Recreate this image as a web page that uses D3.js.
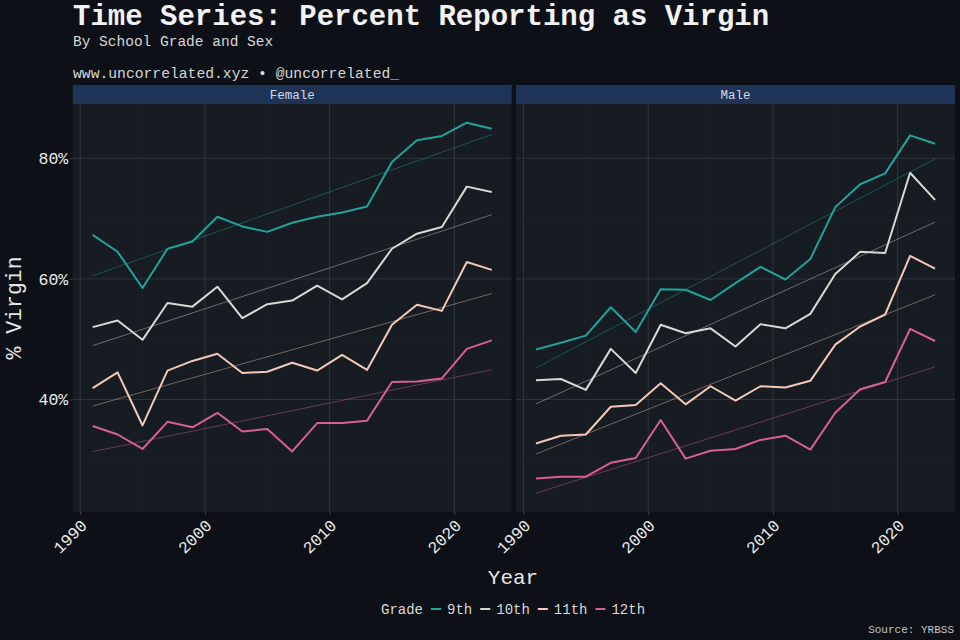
<!DOCTYPE html>
<html>
<head>
<meta charset="utf-8">
<script src="https://cdn.jsdelivr.net/npm/d3@7"></script>
<style>
  html, body { margin: 0; padding: 0; background: #0d1117; }
  svg { display: block; }
  text { font-family: "Liberation Mono", "DejaVu Sans Mono", monospace; }
</style>
</head>
<body>
<svg id="chart" width="960" height="640"></svg>
<script>
// ---------- data ----------
const years = [1991,1993,1995,1997,1999,2001,2003,2005,2007,2009,2011,2013,2015,2017,2019,2021,2023];
const grades = ["9th","10th","11th","12th"];
const sexes = ["Female","Male"];
const gradeColors = ["#1fa39b","#d3dbd3","#f4c8b8","#d8608e"];

const female9th  = [67.3,64.5,58.5,65.0,66.2,70.3,68.7,67.8,69.3,70.3,71.0,72.0,79.4,83.0,83.7,85.9,84.9];
const female10th = [52.0,53.1,49.9,56.0,55.4,58.7,53.5,55.8,56.4,58.9,56.6,59.3,65.0,67.5,68.6,75.3,74.4];
const female11th = [41.9,44.5,35.7,44.8,46.4,47.6,44.4,44.6,46.1,44.8,47.4,44.9,52.4,55.7,54.7,62.8,61.5];
const female12th = [35.6,34.2,31.8,36.3,35.4,37.8,34.7,35.1,31.4,36.1,36.1,36.5,42.9,43.0,43.5,48.4,49.8];

const male9th  = [48.3,49.4,50.6,55.3,51.2,58.3,58.2,56.5,59.3,62.0,59.9,63.3,71.9,75.7,77.5,83.8,82.4];
const male10th = [43.2,43.4,41.6,48.4,44.4,52.4,51.0,51.8,48.8,52.5,51.8,54.2,60.8,64.5,64.3,77.6,73.1];
const male11th = [32.7,34.0,34.2,38.8,39.1,42.7,39.2,42.2,39.8,42.2,42.0,43.1,49.1,52.1,54.1,63.8,61.7];
const male12th = [26.9,27.2,27.2,29.5,30.3,36.6,30.2,31.5,31.8,33.3,34.0,31.7,37.8,41.7,42.9,51.7,49.7];

const yTicks = [40, 60, 80];
const yMinor = [30, 50, 70];
const xTicks = [1990, 2000, 2010, 2020];
const xMinor = [1995, 2005, 2015];

const seriesBySex = {
  Female: [female9th, female10th, female11th, female12th],
  Male:   [male9th, male10th, male11th, male12th]
};

// ---------- layout ----------
const svg = d3.select("#chart");
const W = 960, H = 640;
svg.append("rect").attr("width", W).attr("height", H).attr("fill", "#0d1117");

const panelTop = 104, panelBottom = 512, stripTop = 85;
const panels = [
  { sex: "Female", x0: 72.7, x1: 511.7 },
  { sex: "Male",   x0: 516,  x1: 955 }
];

const y = d3.scaleLinear().domain([21.35, 89.0]).range([panelBottom, panelTop]);

function linreg(xs, ys) {
  const mx = d3.mean(xs), my = d3.mean(ys);
  let sxy = 0, sxx = 0;
  xs.forEach((xv, i) => { sxy += (xv - mx) * (ys[i] - my); sxx += (xv - mx) * (xv - mx); });
  const b = sxy / sxx;
  return { a: my - b * mx, b };
}

// title block
svg.append("text").attr("x", 73).attr("y", 25).attr("fill", "#f2f2f2")
  .attr("font-size", 29).attr("font-weight", "bold")
  .text("Time Series: Percent Reporting as Virgin");
svg.append("text").attr("x", 73).attr("y", 45.5).attr("fill", "#d6d6d6")
  .attr("font-size", 14.5).text("By School Grade and Sex");
svg.append("text").attr("x", 73).attr("y", 77.5).attr("fill", "#d6d6d6")
  .attr("font-size", 14.7).text("www.uncorrelated.xyz \u2022 @uncorrelated_");

panels.forEach(p => {
  const x = d3.scaleLinear().domain([1989.4, 2024.6]).range([p.x0, p.x1]);
  const g = svg.append("g");

  // panel background
  g.append("rect").attr("x", p.x0).attr("y", panelTop)
    .attr("width", p.x1 - p.x0).attr("height", panelBottom - panelTop)
    .attr("fill", "#171b22");
  // strip
  g.append("rect").attr("x", p.x0).attr("y", stripTop)
    .attr("width", p.x1 - p.x0).attr("height", panelTop - stripTop)
    .attr("fill", "#1e3456");
  g.append("text").attr("x", (p.x0 + p.x1) / 2).attr("y", panelTop - 5)
    .attr("text-anchor", "middle").attr("fill", "#d4dbe6")
    .attr("font-size", 12.5).text(p.sex);

  // minor grid
  g.selectAll(".ymin").data(yMinor).join("line")
    .attr("x1", p.x0).attr("x2", p.x1)
    .attr("y1", d => y(d)).attr("y2", d => y(d))
    .attr("stroke", "#1e232b").attr("stroke-width", 0.6);
  g.selectAll(".xmin").data(xMinor).join("line")
    .attr("x1", d => x(d)).attr("x2", d => x(d))
    .attr("y1", panelTop).attr("y2", panelBottom)
    .attr("stroke", "#1e232b").attr("stroke-width", 0.6);
  // major grid
  g.selectAll(".ymaj").data(yTicks).join("line")
    .attr("x1", p.x0).attr("x2", p.x1)
    .attr("y1", d => y(d)).attr("y2", d => y(d))
    .attr("stroke", "#2f353e").attr("stroke-width", 1);
  g.selectAll(".xmaj").data(xTicks).join("line")
    .attr("x1", d => x(d)).attr("x2", d => x(d))
    .attr("y1", panelTop).attr("y2", panelBottom)
    .attr("stroke", "#2f353e").attr("stroke-width", 1);

  // x axis ticks + labels
  const xAxis = d3.axisBottom(x).tickValues(xTicks).tickSize(3).tickFormat(d3.format("d"));
  const xa = g.append("g").attr("transform", `translate(0,${panelBottom})`).call(xAxis);
  xa.select(".domain").remove();
  xa.selectAll(".tick line").attr("stroke", "#3a404a");
  xa.selectAll(".tick text")
    .attr("fill", "#ececec").attr("font-size", 16.5)
    .attr("font-family", "Liberation Mono, monospace")
    .attr("text-anchor", "end")
    .attr("x", 0).attr("y", 0).attr("dy", "0.72em")
    .attr("transform", "translate(-1,6) rotate(-45)");

  // y axis for first panel only
  if (p.sex === "Female") {
    const yAxis = d3.axisLeft(y).tickValues(yTicks).tickSize(3).tickFormat(d => d + "%");
    const ya = g.append("g").attr("transform", `translate(${p.x0},0)`).call(yAxis);
    ya.select(".domain").remove();
    ya.selectAll(".tick line").attr("stroke", "#3a404a");
    ya.selectAll(".tick text").attr("fill", "#ececec").attr("font-size", 16.5)
      .attr("font-family", "Liberation Mono, monospace").attr("x", -4.5);
  }

  // lines
  const line = d3.line().x((d, i) => x(years[i])).y(d => y(d));
  seriesBySex[p.sex].forEach((vals, gi) => {
    g.append("path").datum(vals).attr("d", line)
      .attr("fill", "none").attr("stroke", gradeColors[gi])
      .attr("stroke-width", 2).attr("stroke-linejoin", "round");
  });
  // linear trend lines
  seriesBySex[p.sex].forEach((vals, gi) => {
    const r = linreg(years, vals);
    const ends = [years[0], years[years.length - 1]];
    g.append("line")
      .attr("x1", x(ends[0])).attr("y1", y(r.a + r.b * ends[0]))
      .attr("x2", x(ends[1])).attr("y2", y(r.a + r.b * ends[1]))
      .attr("stroke", gradeColors[gi]).attr("stroke-opacity", 0.55)
      .attr("stroke-width", 0.8);
  });
});

// axis titles
svg.append("text").attr("x", 513).attr("y", 584).attr("text-anchor", "middle")
  .attr("fill", "#e6e6e6").attr("font-size", 21).text("Year");
svg.append("text").attr("transform", "translate(21,308) rotate(-90)")
  .attr("text-anchor", "middle").attr("fill", "#e6e6e6").attr("font-size", 21.5)
  .text("% Virgin");

// legend
const lg = svg.append("g");
let lx = 381;
const ly = 614;
const t0 = lg.append("text").attr("x", lx).attr("y", ly).attr("fill", "#d8d8d8")
  .attr("font-size", 14).text("Grade");
lx += t0.node().getComputedTextLength() + 8;
grades.forEach((gname, i) => {
  lg.append("line").attr("x1", lx).attr("x2", lx + 10)
    .attr("y1", ly - 5).attr("y2", ly - 5)
    .attr("stroke", gradeColors[i]).attr("stroke-width", 2);
  lx += 16;
  const t = lg.append("text").attr("x", lx).attr("y", ly).attr("fill", "#d8d8d8")
    .attr("font-size", 14).text(gname);
  lx += t.node().getComputedTextLength() + 8;
});

// source
svg.append("text").attr("x", 954).attr("y", 633).attr("text-anchor", "end")
  .attr("fill", "#c4c4c4").attr("font-size", 11).text("Source: YRBSS");
</script>
</body>
</html>
